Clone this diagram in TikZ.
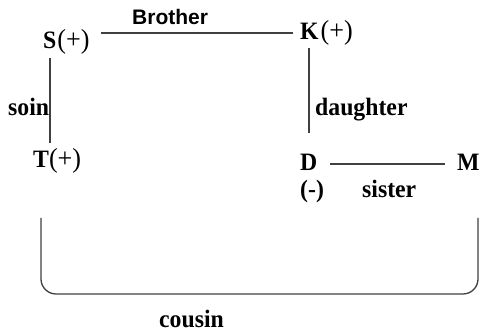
\documentclass[tikz,border=0pt]{standalone}
\usepackage{fontspec}
\setmainfont[FakeStretch=0.95]{Liberation Serif}
\newfontfamily\brosans{Liberation Sans}
\newcommand{\plussign}{{\mdseries\fontsize{27.5}{30}\selectfont(+)}}
\begin{document}
\begin{tikzpicture}[x=1pt,y=-1pt,
  lbl/.style={anchor=base west,inner sep=0pt,font=\fontsize{25}{29}\selectfont\bfseries},
  sanslbl/.style={anchor=base west,inner sep=0pt,font=\fontsize{21}{24}\selectfont\brosans\bfseries},
  rel/.style={draw=black!75,line width=1.3pt}]
\useasboundingbox (0,0) rectangle (480,336);
\node[lbl] (S) at (43,49) {S\hspace{1pt}\plussign};
\node[lbl] (K) at (300,40) {K\hspace{2pt}\plussign};
\node[lbl] (T) at (33,168) {T\plussign};
\node[lbl] (D) at (300,171) {D};
\node[lbl] (M) at (457,171) {M};
\node[lbl] (Dm) at (300,198) {(-)};
\node[lbl] (sister) at (362,198) {sister};
\node[lbl] (soin) at (8,116) {soin};
\node[lbl] (daughter) at (315,116) {daughter};
\node[sanslbl] (brother) at (132,25) {Brother};
\node[lbl] (cousin) at (159,328) {cousin};
\coordinate (s1) at (101,33); \coordinate (k1) at (293,33);
\coordinate (s2) at (50,58); \coordinate (t1) at (50,143);
\coordinate (k2) at (309,48); \coordinate (d1) at (309,133);
\coordinate (d2) at (330,164); \coordinate (m1) at (445,164);
\coordinate (tb) at (41,218); \coordinate (mb) at (478,218);
\draw[rel] (s1) -- (k1);
\draw[rel] (s2) -- (t1);
\draw[rel] (k2) -- (d1);
\draw[rel] (d2) -- (m1);
\draw[rel,rounded corners=15pt] (tb) -- (41,294) -- (478,294) -- (mb);
\end{tikzpicture}
\end{document}
